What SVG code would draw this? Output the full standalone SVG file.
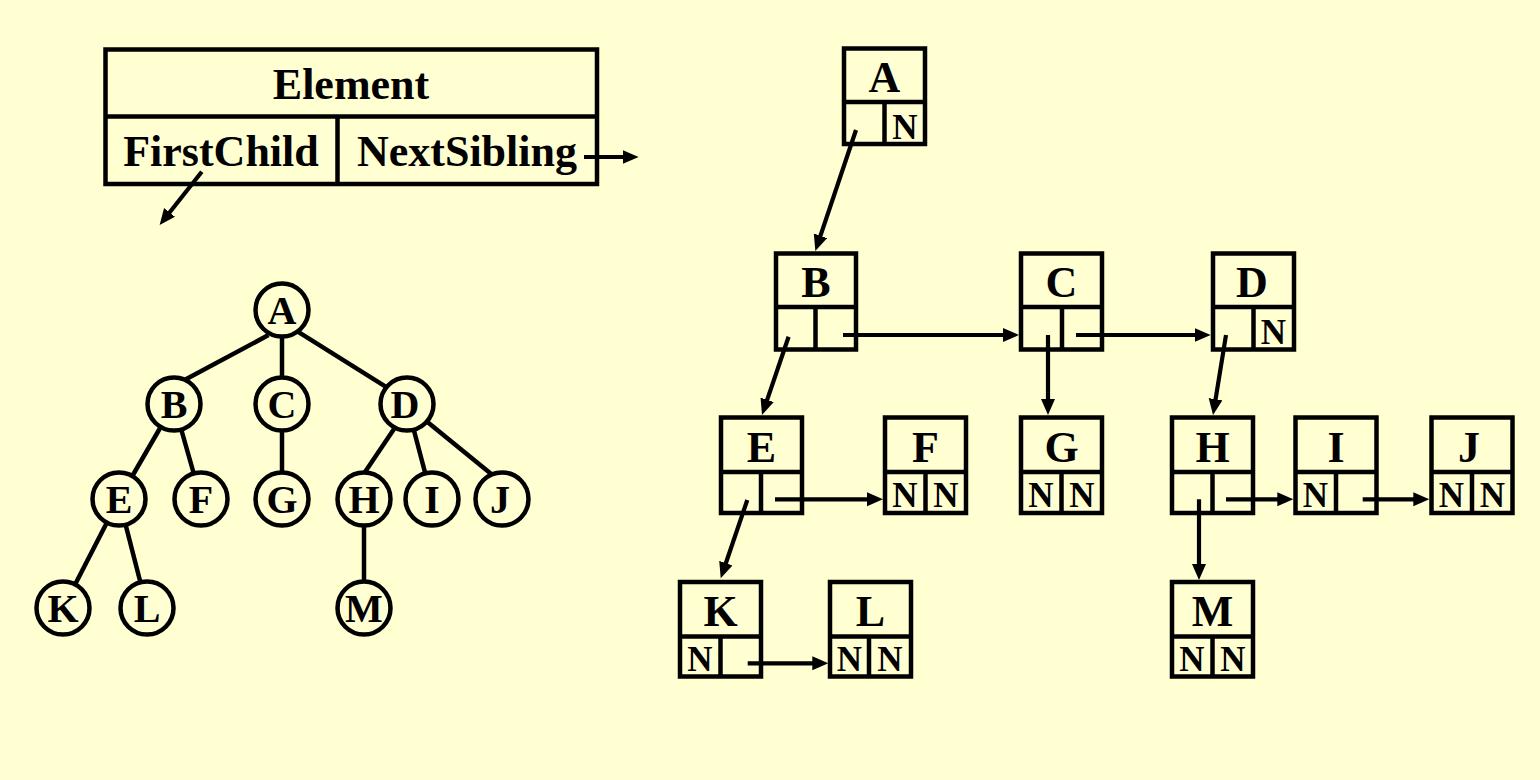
<svg xmlns="http://www.w3.org/2000/svg" width="1540" height="780" viewBox="0 0 1540 780">
<style>
.bx{fill:none;stroke:#000;stroke-width:4.5}
.ln{stroke:#000;stroke-width:4.5;fill:none}
.ar{stroke:#000;stroke-width:4.2;fill:none;marker-end:url(#ah)}
.ci{fill:#FFFFD2;stroke:#000;stroke-width:4.5}
.t{font-family:"Liberation Serif","Times New Roman",serif;font-weight:bold;fill:#000;text-anchor:middle}
.big{font-size:44px}
.tl{font-size:40px}
.n{font-size:35px}
</style>
<defs>
<marker id="ah" markerUnits="userSpaceOnUse" markerWidth="17" markerHeight="15" refX="8" refY="7" orient="auto">
<path d="M0,0 L16,7 L0,14 z" fill="#000"/>
</marker>
</defs>
<rect x="0" y="0" width="1540" height="780" fill="#FFFFD2"/>

<g id="element">
<rect class="bx" x="105.5" y="49.5" width="491.5" height="134.5"/>
<line class="ln" x1="105.5" y1="116.5" x2="597" y2="116.5"/>
<line class="ln" x1="337.5" y1="116.5" x2="337.5" y2="184"/>
<text class="t big" x="351" y="99">Element</text>
<text class="t big" x="221" y="166">FirstChild</text>
<text class="t big" x="467" y="166">NextSibling</text>
</g>

<g id="tree-edges">
<line class="ln" x1="268.5" y1="335.1" x2="184.5" y2="379.9"/>
<line class="ln" x1="282" y1="310" x2="282" y2="404"/>
<line class="ln" x1="296.6" y1="330.9" x2="386.4" y2="387.1"/>
<line class="ln" x1="174" y1="404" x2="119" y2="499"/>
<line class="ln" x1="174" y1="404" x2="201" y2="499"/>
<line class="ln" x1="282" y1="404" x2="282" y2="499"/>
<line class="ln" x1="394" y1="429" x2="363" y2="475"/>
<line class="ln" x1="407" y1="404" x2="432" y2="499"/>
<line class="ln" x1="421.9" y1="417.5" x2="493.1" y2="475.5"/>
<line class="ln" x1="119" y1="499" x2="63" y2="608"/>
<line class="ln" x1="119" y1="499" x2="147" y2="608"/>
<line class="ln" x1="364" y1="499" x2="364" y2="608"/>
</g>

<g id="tA"><circle class="ci" cx="282" cy="310" r="26.5"/><text class="t tl" x="282" y="324">A</text></g>
<g id="tB"><circle class="ci" cx="174" cy="404" r="26.5"/><text class="t tl" x="174" y="418">B</text></g>
<g id="tC"><circle class="ci" cx="282" cy="404" r="26.5"/><text class="t tl" x="282" y="418">C</text></g>
<g id="tD"><circle class="ci" cx="407" cy="404" r="26.5"/><text class="t tl" x="405" y="418">D</text></g>
<g id="tE"><circle class="ci" cx="119" cy="499" r="26.5"/><text class="t tl" x="119" y="513">E</text></g>
<g id="tF"><circle class="ci" cx="201" cy="499" r="26.5"/><text class="t tl" x="201" y="513">F</text></g>
<g id="tG"><circle class="ci" cx="282" cy="499" r="26.5"/><text class="t tl" x="282" y="513">G</text></g>
<g id="tH"><circle class="ci" cx="364" cy="499" r="26.5"/><text class="t tl" x="364" y="513">H</text></g>
<g id="tI"><circle class="ci" cx="432" cy="499" r="26.5"/><text class="t tl" x="432" y="513">I</text></g>
<g id="tJ"><circle class="ci" cx="502" cy="499" r="26.5"/><text class="t tl" x="500" y="513">J</text></g>
<g id="tK"><circle class="ci" cx="63" cy="608" r="26.5"/><text class="t tl" x="63" y="622">K</text></g>
<g id="tL"><circle class="ci" cx="147" cy="608" r="26.5"/><text class="t tl" x="147" y="622">L</text></g>
<g id="tM"><circle class="ci" cx="364" cy="608" r="26.5"/><text class="t tl" x="364" y="622">M</text></g>

<g id="nA"><rect class="bx" x="844" y="48.5" width="81" height="95.5"/><line class="ln" x1="844" y1="102" x2="925" y2="102"/><line class="ln" x1="884.5" y1="102" x2="884.5" y2="144"/><text class="t big" x="884.5" y="92">A</text><text class="t n" x="905" y="139">N</text></g>
<g id="nB"><rect class="bx" x="776" y="253.5" width="80" height="96"/><line class="ln" x1="776" y1="307" x2="856" y2="307"/><line class="ln" x1="815.5" y1="307" x2="815.5" y2="349.5"/><text class="t big" x="816" y="297">B</text></g>
<g id="nC"><rect class="bx" x="1021" y="253.5" width="81" height="96"/><line class="ln" x1="1021" y1="307" x2="1102" y2="307"/><line class="ln" x1="1062" y1="307" x2="1062" y2="349.5"/><text class="t big" x="1061.5" y="297">C</text></g>
<g id="nD"><rect class="bx" x="1213" y="253.5" width="81" height="96"/><line class="ln" x1="1213" y1="307" x2="1294" y2="307"/><line class="ln" x1="1253.5" y1="307" x2="1253.5" y2="349.5"/><text class="t big" x="1252" y="297">D</text><text class="t n" x="1273.5" y="344">N</text></g>
<g id="nE"><rect class="bx" x="721" y="417.5" width="81" height="95.5"/><line class="ln" x1="721" y1="472" x2="802" y2="472"/><line class="ln" x1="761" y1="472" x2="761" y2="513"/><text class="t big" x="761.5" y="462">E</text></g>
<g id="nF"><rect class="bx" x="885" y="417.5" width="81" height="95.5"/><line class="ln" x1="885" y1="472" x2="966" y2="472"/><line class="ln" x1="925.5" y1="472" x2="925.5" y2="513"/><text class="t big" x="925.5" y="462">F</text><text class="t n" x="905" y="507">N</text><text class="t n" x="946" y="507">N</text></g>
<g id="nG"><rect class="bx" x="1021" y="417.5" width="81" height="95.5"/><line class="ln" x1="1021" y1="472" x2="1102" y2="472"/><line class="ln" x1="1061.5" y1="472" x2="1061.5" y2="513"/><text class="t big" x="1061.5" y="462">G</text><text class="t n" x="1041" y="507">N</text><text class="t n" x="1082" y="507">N</text></g>
<g id="nH"><rect class="bx" x="1172" y="417.5" width="81" height="95.5"/><line class="ln" x1="1172" y1="472" x2="1253" y2="472"/><line class="ln" x1="1212.5" y1="472" x2="1212.5" y2="513"/><text class="t big" x="1212.5" y="462">H</text></g>
<g id="nI"><rect class="bx" x="1295.5" y="417.5" width="81" height="95.5"/><line class="ln" x1="1295.5" y1="472" x2="1376.5" y2="472"/><line class="ln" x1="1336" y1="472" x2="1336" y2="513"/><text class="t big" x="1336" y="462">I</text><text class="t n" x="1315.5" y="507">N</text></g>
<g id="nJ"><rect class="bx" x="1431.5" y="417.5" width="81" height="95.5"/><line class="ln" x1="1431.5" y1="472" x2="1512.5" y2="472"/><line class="ln" x1="1472" y1="472" x2="1472" y2="513"/><text class="t big" x="1469" y="462">J</text><text class="t n" x="1451.5" y="507">N</text><text class="t n" x="1492.5" y="507">N</text></g>
<g id="nK"><rect class="bx" x="680" y="582" width="81" height="94.5"/><line class="ln" x1="680" y1="636.5" x2="761" y2="636.5"/><line class="ln" x1="720.5" y1="636.5" x2="720.5" y2="676.5"/><text class="t big" x="720.5" y="626">K</text><text class="t n" x="700" y="671">N</text></g>
<g id="nL"><rect class="bx" x="830" y="582" width="81" height="94.5"/><line class="ln" x1="830" y1="636.5" x2="911" y2="636.5"/><line class="ln" x1="869" y1="636.5" x2="869" y2="676.5"/><text class="t big" x="870.5" y="626">L</text><text class="t n" x="849.5" y="671">N</text><text class="t n" x="890" y="671">N</text></g>
<g id="nM"><rect class="bx" x="1172" y="582" width="81" height="94.5"/><line class="ln" x1="1172" y1="636.5" x2="1253" y2="636.5"/><line class="ln" x1="1212.5" y1="636.5" x2="1212.5" y2="676.5"/><text class="t big" x="1212.5" y="626">M</text><text class="t n" x="1192" y="671">N</text><text class="t n" x="1233" y="671">N</text></g>

<g id="connectors">
<line class="ar" x1="584" y1="157" x2="630.6" y2="157"/>
<line class="ar" x1="201.8" y1="171.7" x2="164.6" y2="218.7"/>
<line class="ar" x1="856" y1="130" x2="817.9" y2="243.4"/>
<line class="ar" x1="843" y1="335" x2="1011" y2="335"/>
<line class="ar" x1="1076" y1="335" x2="1202.7" y2="335"/>
<line class="ar" x1="788.6" y1="336.7" x2="764.6" y2="407.4"/>
<line class="ar" x1="1048" y1="335" x2="1048" y2="407"/>
<line class="ar" x1="1226" y1="335" x2="1214.3" y2="407.1"/>
<line class="ar" x1="775" y1="499.3" x2="875" y2="499.3"/>
<line class="ar" x1="747.3" y1="500" x2="723.3" y2="570.7"/>
<line class="ar" x1="747.7" y1="663.3" x2="820.3" y2="663.3"/>
<line class="ar" x1="1226" y1="499.3" x2="1285.3" y2="499.3"/>
<line class="ar" x1="1362.7" y1="499.3" x2="1421.3" y2="499.3"/>
<line class="ar" x1="1199" y1="499.3" x2="1199" y2="572"/>
</g>
</svg>
